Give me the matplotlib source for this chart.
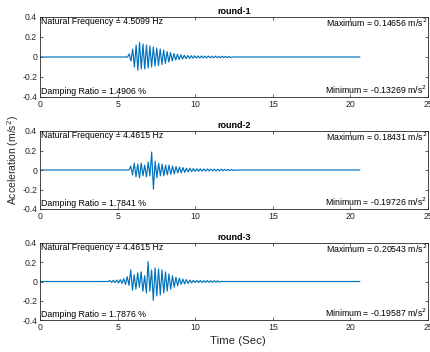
import numpy as np
import matplotlib.pyplot as plt

plt.rcParams["font.family"] = ["Liberation Sans", "DejaVu Sans"]

# ---- data ----------------------------------------------------------------
titles = ["round-1", "round-2", "round-3"]
nat_freq = [4.5099, 4.4615, 4.4615]          # Hz
damping = [1.4906, 1.7841, 1.7876]           # %
maximum = [0.14656, 0.18431, 0.20543]        # m/s^2
minimum = [-0.13269, -0.19726, -0.19587]     # m/s^2

burst_start = [5.75, 5.85, 4.5]              # s, first visible peak
record_end = 20.6                            # s, end of trace

# positive / negative peak per cycle, from burst start
r1_up = [0.03, 0.08, 0.12, 0.147, 0.13, 0.12, 0.11, 0.10, 0.09, 0.08, 0.07,
         0.055, 0.045, 0.035, 0.028, 0.022, 0.018, 0.015, 0.013, 0.012, 0.011,
         0.010, 0.009, 0.009, 0.008, 0.008, 0.007, 0.007, 0.006, 0.006]
r1_dn = [-0.04, -0.10, -0.133, -0.12, -0.12, -0.11, -0.10, -0.09, -0.085,
         -0.075, -0.065, -0.05, -0.04, -0.03, -0.025, -0.02, -0.017, -0.014,
         -0.012, -0.011, -0.010, -0.009, -0.009, -0.008, -0.008, -0.007,
         -0.007, -0.006, -0.006, -0.005]

r2_up = [0.04, 0.07, 0.06, 0.07, 0.05, 0.08, 0.184, 0.09, 0.07, 0.06, 0.05,
         0.05, 0.04, 0.035, 0.03, 0.025, 0.02, 0.018, 0.015, 0.013, 0.012,
         0.011, 0.010, 0.009, 0.009, 0.008, 0.008, 0.007, 0.007, 0.006]
r2_dn = [-0.05, -0.07, -0.08, -0.06, -0.07, -0.06, -0.197, -0.08, -0.06,
         -0.06, -0.05, -0.045, -0.04, -0.03, -0.03, -0.025, -0.02, -0.017,
         -0.015, -0.013, -0.012, -0.011, -0.010, -0.009, -0.009, -0.008,
         -0.008, -0.007, -0.007, -0.006]

r3_up = [0.01, 0.012, 0.015, 0.02, 0.03, 0.05, 0.12, 0.07, 0.09, 0.10, 0.06,
         0.205, 0.12, 0.14, 0.13, 0.12, 0.10, 0.08, 0.06, 0.045, 0.035, 0.025,
         0.02, 0.015, 0.012, 0.011, 0.010, 0.009, 0.009, 0.008, 0.008, 0.007]
r3_dn = [-0.01, -0.012, -0.015, -0.02, -0.03, -0.04, -0.09, -0.08, -0.06,
         -0.10, -0.12, -0.10, -0.196, -0.15, -0.14, -0.12, -0.10, -0.08, -0.06,
         -0.045, -0.03, -0.025, -0.02, -0.015, -0.012, -0.011, -0.010, -0.009,
         -0.009, -0.008, -0.008, -0.007]

peaks_up = [r1_up, r2_up, r3_up]
peaks_dn = [r1_dn, r2_dn, r3_dn]

LINE = "#0072BD"
GRAY = "#262626"


def trace(i):
    """Zig-zag through the read peaks, flat before and after."""
    up, dn = peaks_up[i], peaks_dn[i]
    y = np.ravel(np.column_stack([up, dn]))
    half = 0.5 / nat_freq[i]
    t = burst_start[i] + np.arange(len(y)) * half
    t = np.concatenate([[0, burst_start[i] - half], t, [t[-1] + half, record_end]])
    y = np.concatenate([[0, 0], y, [0, 0]])
    return t, y


fig = plt.figure(figsize=(4.3, 3.52), dpi=100)
left, width = 40 / 430, 388 / 430
tops = [17, 131, 243]
bots = [97, 209, 320]

axes = []
for i in range(3):
    b = 1 - bots[i] / 352
    h = (bots[i] - tops[i]) / 352
    ax = fig.add_axes([left, b, width, h])
    axes.append(ax)

    t, y = trace(i)
    ax.plot(t, y, color=LINE, lw=0.85)

    ax.set_xlim(0, 25)
    ax.set_ylim(-0.4, 0.4)
    ax.set_xticks(np.arange(0, 26, 5))
    ax.set_yticks([-0.4, -0.2, 0, 0.2, 0.4])
    ax.set_yticklabels(["-0.4", "-0.2", "0", "0.2", "0.4"])
    ax.tick_params(direction="in", length=2.5, width=0.5, labelsize=6.3,
                   colors=GRAY, labelcolor=GRAY, top=True, right=True, pad=2)
    for s in ax.spines.values():
        s.set_linewidth(0.6)
        s.set_color(GRAY)

    ax.set_title(titles[i], fontsize=6.5, fontweight="bold", pad=2)

    fs = 6.3
    ax.text(0.002, 1.0, f"Natural Frequency = {nat_freq[i]:.4f} Hz",
            transform=ax.transAxes, ha="left", va="top", fontsize=fs)
    ax.text(0.002, 0.01, f"Damping Ratio = {damping[i]:.4f} %",
            transform=ax.transAxes, ha="left", va="bottom", fontsize=fs)
    ax.text(0.998, 1.0, f"Maximum = {maximum[i]:.5f} m/s$^2$",
            transform=ax.transAxes, ha="right", va="top", fontsize=fs)
    ax.text(0.998, 0.01, f"Minimum = {minimum[i]:.5f} m/s$^2$",
            transform=ax.transAxes, ha="right", va="bottom", fontsize=fs)

fig.text(13 / 430, 1 - 160 / 352, "Acceleration (m/s$^2$)", rotation=90,
         ha="center", va="center", fontsize=7.5, color=GRAY)
fig.text(238 / 430, 1 - 341 / 352, "Time (Sec)", ha="center", va="center",
         fontsize=8.2, color=GRAY)

fig.savefig("out.png", dpi=100)
